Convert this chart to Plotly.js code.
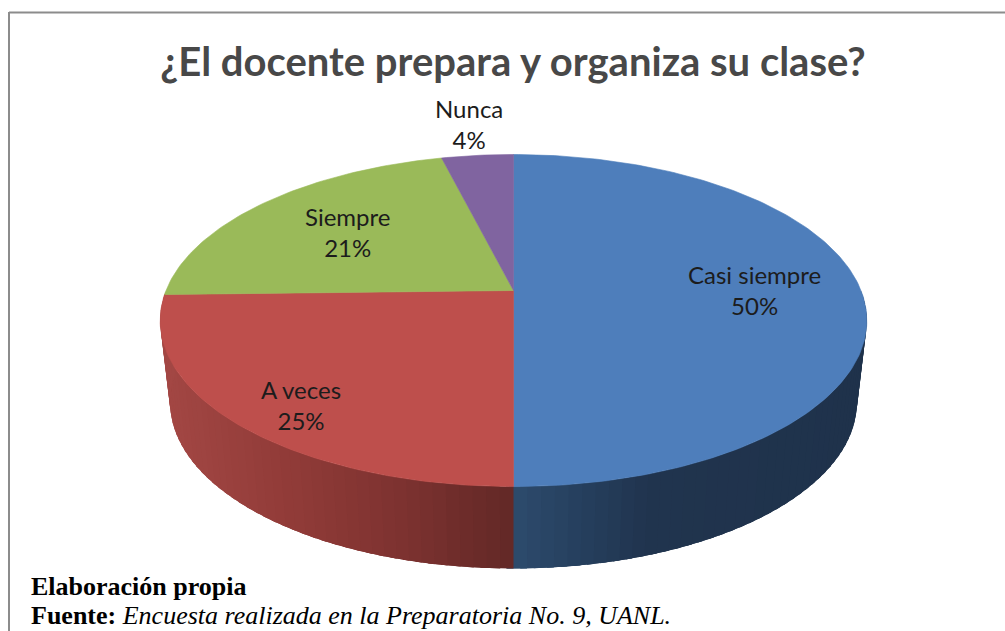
<!DOCTYPE html>
<html>
<head>
<meta charset="utf-8">
<script src="https://cdn.plot.ly/plotly-3.0.1.min.js"></script>
<style>html,body{margin:0;padding:0;background:#fff;overflow:hidden}</style>
</head>
<body>
<div id="chart" style="width:1005px;height:631px"></div>
<script>
var titleText = '¿El docente prepara y organiza su clase?';
var categories = ['Casi siempre', 'A veces', 'Siempre', 'Nunca'];
var values = [50, 24.6, 21.49, 3.91];
var footerTitle = 'Elaboración propia';
var footerSourceLabel = 'Fuente:';
var footerSource = 'Encuesta realizada en la Preparatoria No. 9, UANL.';

var topColors = ['#4E7EBB', '#BE4F4C', '#9ABA59', '#8064A0'];
var sideStops = [
  [[513, [45, 75, 109]], [590, [37, 62, 92]], [650, [32, 52, 78]], [870, [31, 50, 75]]],
  [[160, [163, 71, 68]], [300, [143, 58, 55]], [400, [125, 50, 48]], [513, [98, 40, 38]]]
];
var labelX = [754, 301, 347, 469];
var labelY = [290, 405, 232, 124];

var G = {cx: 513.5, cy: 290.5, a: 347.5, b: 160.6, k: 0.181, depth: 82, shrink: 0.972};
function project(deg, bottom) {
  var t = deg * Math.PI / 180, u = Math.sin(t), v = Math.cos(t), w = 1 + G.k * v;
  var s = bottom ? G.shrink : 1;
  return [G.cx + s * G.a * u / w, G.cy - G.b * v / w + (bottom ? G.depth : 0)];
}
function sideColor(stops, x) {
  if (x <= stops[0][0]) return stops[0][1];
  for (var i = 1; i < stops.length; i++) {
    if (x <= stops[i][0]) {
      var f = (x - stops[i - 1][0]) / (stops[i][0] - stops[i - 1][0]);
      return stops[i - 1][1].map(function (c, j) { return c + f * (stops[i][1][j] - c); });
    }
  }
  return stops[stops.length - 1][1];
}

var total = values.reduce(function (s, d) { return s + d; }, 0);
var traces = [], faces = [], start = 0, BANDS = 48;
values.forEach(function (val, i) {
  var end = start + val / total * 360;
  // side wall: only the front half of the disc can be seen
  var from = Math.max(start, 90), to = Math.min(end, 270);
  if (to > from && sideStops[i]) {
    var step = (to - from) / BANDS;
    // each band runs under the one painted after it, so no seam shows through
    for (var n = 0; n < BANDS; n++) {
      var d0 = from + n * step, d1 = Math.min(to + 1, d0 + 2.5 * step), dm = d0 + step / 2;
      var xs0 = [], ys0 = [], q, pts = [d0, (d0 + d1) / 2, d1];
      pts.forEach(function (dg) { q = project(dg, false); xs0.push(q[0]); ys0.push(q[1]); });
      pts.slice().reverse().forEach(function (dg) { q = project(dg, true); xs0.push(q[0]); ys0.push(q[1]); });
      xs0.push(xs0[0]); ys0.push(ys0[0]);
      var rgb = sideColor(sideStops[i], project(dm, false)[0]).map(Math.round);
      var col = 'rgb(' + rgb.join(',') + ')';
      traces.push({type: 'scatter', mode: 'lines', fill: 'toself', fillcolor: col,
        line: {color: col, width: 0}, hoverinfo: 'skip', showlegend: false, x: xs0, y: ys0});
    }
  }
  var xs = [G.cx], ys = [G.cy];
  var count = Math.max(8, Math.ceil(end - start));
  for (var m = 0; m <= count; m++) {
    var p = project(start + (end - start) * m / count, false);
    xs.push(p[0]); ys.push(p[1]);
  }
  xs.push(G.cx); ys.push(G.cy);
  faces.push({type: 'scatter', mode: 'lines', fill: 'toself', fillcolor: topColors[i], name: categories[i],
    line: {color: topColors[i], width: 0.6}, hoverinfo: 'name', showlegend: false, x: xs, y: ys});
  start = end;
});
traces = traces.concat(faces);

var labelFont = {family: 'Lato, sans-serif', size: 24, color: '#1c1c1c'};
var annotations = categories.map(function (cat, i) {
  return {x: labelX[i], y: labelY[i], xref: 'x', yref: 'y', xanchor: 'center', yanchor: 'middle', showarrow: false,
    align: 'center', font: labelFont, text: cat + '<br>' + Math.round(values[i] / total * 100) + '%'};
});
annotations.push({x: 30, y: 586, xref: 'x', yref: 'y', xanchor: 'left', yanchor: 'middle', showarrow: false, borderpad: 0,
  font: {family: 'Liberation Serif, serif', size: 26, color: '#000'}, text: '<b>' + footerTitle + '</b>'});
annotations.push({x: 30, y: 615, xref: 'x', yref: 'y', xanchor: 'left', yanchor: 'middle', showarrow: false, borderpad: 0,
  font: {family: 'Liberation Serif, serif', size: 26, color: '#000'},
  text: '<b>' + footerSourceLabel + '</b> <i>' + footerSource + '</i>'});

var layout = {
  width: 1005, height: 631, margin: {l: 0, r: 0, t: 0, b: 0},
  paper_bgcolor: '#fff', plot_bgcolor: '#fff', showlegend: false,
  title: {text: '<b>' + titleText + '</b>', x: 513 / 1005, xanchor: 'center', y: 1 - 62 / 631, yanchor: 'middle',
    xref: 'paper', yref: 'paper', font: {family: 'Lato, sans-serif', size: 40, color: '#484848'}},
  xaxis: {visible: false, range: [0, 1005], fixedrange: true},
  yaxis: {visible: false, range: [631, 0], fixedrange: true},
  annotations: annotations,
  shapes: [
    {type: 'line', xref: 'x', yref: 'y', x0: 9, x1: 1005, y0: 12.5, y1: 12.5, line: {color: '#8c8c8c', width: 2}},
    {type: 'line', xref: 'x', yref: 'y', x0: 9, x1: 9, y0: 12, y1: 631, line: {color: '#8c8c8c', width: 2}}
  ]
};
Plotly.newPlot('chart', traces, layout, {displayModeBar: false, staticPlot: true});
</script>
</body>
</html>
